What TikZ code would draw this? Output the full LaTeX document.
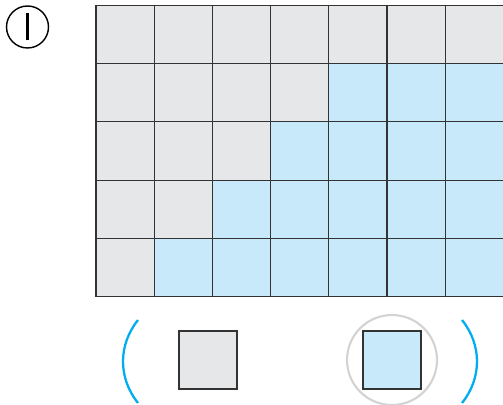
\documentclass[tikz,border=0pt]{standalone}
\usepackage{tikz}
\usetikzlibrary{positioning}
\definecolor{cellgray}{HTML}{E6E7E8}
\definecolor{cellblue}{HTML}{C8E9F9}
\definecolor{parenblue}{HTML}{00AEEF}
\definecolor{ringgray}{HTML}{D3D3D3}
\definecolor{edgegray}{HTML}{333333}

\begin{document}
\begin{tikzpicture}[
    x=0.02cm, y=-0.02cm,
    grayfill/.style={fill=cellgray},
    bluefill/.style={fill=cellblue},
    gridline/.style={draw=edgegray, line width=0.6pt},
    keybox/.style={draw=edgegray, line width=0.7pt, minimum size=1.16cm, inner sep=0pt},
    ring/.style={circle, draw=ringgray, line width=1.2pt, minimum size=1.8cm, inner sep=0pt},
    paren/.style={draw=parenblue, line width=1.3pt}
]
\useasboundingbox (0,0) rectangle (503,405);
\clip (0,0) rectangle (503,405);

% Label
\node[circle, draw=black, line width=0.8pt, minimum size=0.84cm, inner sep=0pt] (label) at (27.5,27) {\rule{0.045cm}{0.54cm}};

% Cells
\foreach \r in {0,...,4}
  \foreach \c in {0,...,6}
    \fill[grayfill] (96+58.2*\c,5.5+58.2*\r) rectangle ++(58.2,58.2);
\foreach \r/\s in {1/4,2/3,3/2,4/1}
  \foreach \c in {\s,...,6}
    \fill[bluefill] (96+58.2*\c,5.5+58.2*\r) rectangle ++(58.2,58.2);

% Grid lines
\foreach \c in {0,...,7}
  \draw[gridline] (96+58.2*\c,5.5) -- (96+58.2*\c,296.5);
\foreach \r in {0,...,5}
  \draw[gridline] (96,5.5+58.2*\r) -- (503.4,5.5+58.2*\r);

% Key
\node[keybox, fill=cellgray] (graykey) at (208,360) {};
\node[keybox, fill=cellblue] (bluekey) at (392,360) {};
\node[ring] (bluering) at (bluekey) {};

% Brackets
\draw[paren] (138,320) .. controls (118,345) and (118,378) .. (138,403);
\draw[paren] (462,320) .. controls (482,345) and (482,378) .. (462,403);
\end{tikzpicture}
\end{document}
